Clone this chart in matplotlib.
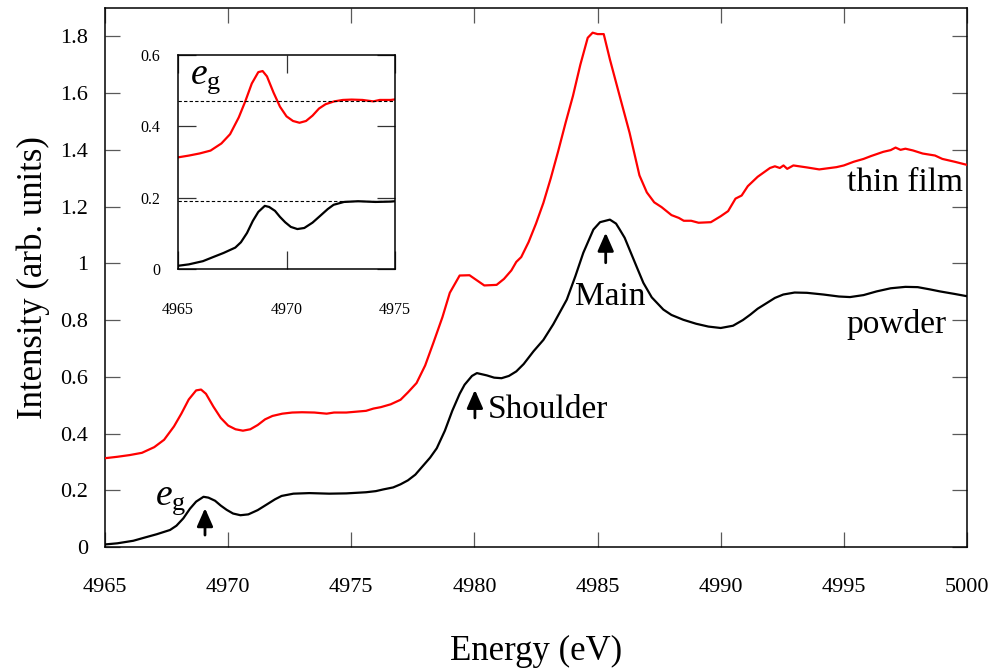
import matplotlib
matplotlib.use("Agg")
import matplotlib.pyplot as plt
from matplotlib.ticker import FuncFormatter

plt.rcParams["font.family"] = ["Liberation Serif", "DejaVu Serif"]
plt.rcParams["mathtext.fontset"] = "custom"
plt.rcParams["mathtext.rm"] = "Liberation Serif"
plt.rcParams["mathtext.it"] = "Liberation Serif:italic"

# Thin film spectrum (energy in eV, normalized intensity)
film_energy = [
    4965.0, 4965.5, 4966.0, 4966.5, 4967.0, 4967.4, 4967.8, 4968.1, 4968.4, 4968.7,
    4968.9, 4969.1, 4969.4, 4969.7, 4970.0, 4970.3, 4970.6, 4970.9, 4971.2, 4971.5,
    4971.8, 4972.2, 4972.6, 4973.0, 4973.5, 4974.0, 4974.3, 4974.8, 4975.2, 4975.6,
    4975.9, 4976.2, 4976.6, 4977.0, 4977.3, 4977.65, 4978.0, 4978.33, 4978.7, 4979.0,
    4979.4, 4979.8, 4980.1, 4980.4, 4980.9, 4981.2, 4981.5, 4981.7, 4981.9, 4982.2,
    4982.5, 4982.8, 4983.1, 4983.4, 4983.7, 4984.0, 4984.3, 4984.6, 4984.8, 4985.0,
    4985.25, 4985.5, 4985.9, 4986.3, 4986.7, 4987.0, 4987.3, 4987.6, 4988.0, 4988.3,
    4988.5, 4988.8, 4989.1, 4989.6, 4990.0, 4990.3, 4990.6, 4990.85, 4991.1, 4991.5,
    4992.0, 4992.2, 4992.4, 4992.55, 4992.7, 4992.95, 4993.5, 4994.0, 4994.7, 4995.0,
    4995.4, 4995.8, 4996.1, 4996.6, 4996.9, 4997.1, 4997.3, 4997.5, 4997.8, 4998.2,
    4998.7, 4999.0, 4999.5, 5000.0,
]
film_intensity = [
    0.313, 0.318, 0.324, 0.332, 0.352, 0.378, 0.425, 0.470, 0.520, 0.552,
    0.555, 0.540, 0.495, 0.455, 0.428, 0.415, 0.410, 0.415, 0.430, 0.450,
    0.462, 0.470, 0.474, 0.475, 0.474, 0.470, 0.474, 0.474, 0.477, 0.480,
    0.488, 0.493, 0.503, 0.519, 0.545, 0.578, 0.640, 0.719, 0.810, 0.896,
    0.957, 0.958, 0.940, 0.922, 0.924, 0.945, 0.975, 1.005, 1.022, 1.075,
    1.140, 1.213, 1.300, 1.395, 1.495, 1.590, 1.700, 1.795, 1.813, 1.808,
    1.808, 1.719, 1.589, 1.460, 1.310, 1.250, 1.215, 1.198, 1.170, 1.160,
    1.150, 1.150, 1.143, 1.145, 1.166, 1.184, 1.228, 1.239, 1.272, 1.305,
    1.336, 1.342, 1.336, 1.345, 1.333, 1.345, 1.338, 1.331, 1.339, 1.345,
    1.358, 1.368, 1.378, 1.393, 1.399, 1.408, 1.400, 1.404, 1.398, 1.387,
    1.380, 1.368, 1.358, 1.347,
]

# Powder spectrum
powder_energy = [
    4965.0, 4965.5, 4966.15, 4966.6, 4967.1, 4967.64, 4967.9, 4968.18, 4968.45, 4968.7,
    4969.0, 4969.2, 4969.47, 4969.7, 4969.94, 4970.2, 4970.5, 4970.82, 4971.2, 4971.57,
    4971.9, 4972.17, 4972.65, 4973.3, 4974.1, 4974.8, 4975.6, 4976.0, 4976.3, 4976.7,
    4977.0, 4977.3, 4977.6, 4977.9, 4978.2, 4978.47, 4978.8, 4979.1, 4979.4, 4979.6,
    4979.9, 4980.1, 4980.5, 4980.8, 4981.1, 4981.4, 4981.7, 4982.0, 4982.4, 4982.8,
    4983.2, 4983.75, 4984.1, 4984.42, 4984.83, 4985.1, 4985.5, 4985.75, 4985.9, 4986.1,
    4986.3, 4986.6, 4986.86, 4987.2, 4987.67, 4988.0, 4988.48, 4989.0, 4989.5, 4990.0,
    4990.5, 4990.9, 4991.2, 4991.5, 4991.87, 4992.2, 4992.54, 4993.0, 4993.5, 4994.17,
    4994.8, 4995.25, 4995.8, 4996.33, 4996.9, 4997.5, 4998.0, 4998.5, 4998.9, 4999.5,
    5000.0,
]
powder_intensity = [
    0.009, 0.013, 0.022, 0.033, 0.045, 0.060, 0.075, 0.101, 0.135, 0.160,
    0.177, 0.174, 0.163, 0.146, 0.131, 0.118, 0.112, 0.115, 0.130, 0.150,
    0.168, 0.180, 0.188, 0.190, 0.188, 0.189, 0.193, 0.197, 0.203, 0.210,
    0.221, 0.235, 0.255, 0.285, 0.315, 0.348, 0.410, 0.480, 0.540, 0.572,
    0.603, 0.613, 0.605, 0.597, 0.595, 0.603, 0.619, 0.645, 0.690, 0.730,
    0.785, 0.872, 0.955, 1.037, 1.119, 1.145, 1.154, 1.140, 1.119, 1.090,
    1.048, 0.985, 0.931, 0.880, 0.837, 0.818, 0.801, 0.787, 0.777, 0.772,
    0.780, 0.800, 0.819, 0.840, 0.860, 0.878, 0.890, 0.897, 0.896, 0.890,
    0.883, 0.881, 0.888, 0.901, 0.912, 0.917, 0.916, 0.908, 0.901, 0.892,
    0.884,
]

# Post-edge reference levels shown in the pre-edge close-up
film_level = 0.47
powder_level = 0.19

main_xticks = [4965, 4970, 4975, 4980, 4985, 4990, 4995, 5000]
main_yticks = [0, 0.2, 0.4, 0.6, 0.8, 1.0, 1.2, 1.4, 1.6, 1.8]
inset_xticks = [4965, 4970, 4975]
inset_yticks = [0, 0.2, 0.4, 0.6]

RED = "#ff0000"
fmt = FuncFormatter(lambda v, p: f"{v:g}")

fig = plt.figure(figsize=(9.98, 6.71), dpi=100)
ax = fig.add_axes([105 / 998, 1 - 547 / 671, 862 / 998, 539 / 671])

ax.plot(film_energy, film_intensity, color=RED, lw=1.6, zorder=3)
ax.plot(powder_energy, powder_intensity, color="black", lw=1.6, zorder=3)

ax.set_xlim(4965, 5000)
ax.set_ylim(0, 1.9)
ax.set_xticks(main_xticks)
ax.set_yticks(main_yticks)
ax.yaxis.set_major_formatter(fmt)
ax.tick_params(direction="in", length=11, width=0.9, color="0.35",
               top=True, right=True, labelsize=16)
ax.tick_params(axis="x", pad=22)
ax.tick_params(axis="y", pad=12)
for s in ax.spines.values():
    s.set_linewidth(1.1)

ax.set_xlabel("Energy (eV)", fontsize=25)
ax.set_ylabel("Intensity (arb. units)", fontsize=25)
ax.xaxis.set_label_coords(0.5, -0.163)
ax.yaxis.set_label_coords(-0.064, 0.5)

# Curve labels
ax.text(4999.84, 1.254, "thin film", fontsize=24, ha="right", va="baseline")
ax.text(4999.17, 0.754, "powder", fontsize=24, ha="right", va="baseline")
ax.text(4985.5, 0.854, "Main", fontsize=24, ha="center", va="baseline")
ax.text(4980.55, 0.455, "Shoulder", fontsize=24, ha="left", va="baseline")
ax.text(4967.03, 0.148, r"$e_{\mathrm{g}}$", fontsize=27, ha="left", va="baseline")

# Feature arrows
arrow_kw = dict(arrowstyle="-|>,head_length=0.5,head_width=0.22", color="black",
                lw=2.0, mutation_scale=22, shrinkA=0, shrinkB=0)
for e, tip, tail in [(4985.33, 1.108, 1.002),
                     (4980.02, 0.554, 0.455),
                     (4969.06, 0.137, 0.042)]:
    ax.annotate("", xy=(e, tip), xytext=(e, tail), arrowprops=arrow_kw)

# Pre-edge close-up
ins = fig.add_axes([178 / 998, 1 - 269 / 671, 217 / 998, 214 / 671])
ins.plot(film_energy, film_intensity, color=RED, lw=1.6)
ins.plot(powder_energy, powder_intensity, color="black", lw=1.6)
ins.axhline(film_level, color="black", lw=0.8, ls=(0, (3, 2)))
ins.axhline(powder_level, color="black", lw=0.8, ls=(0, (3, 2)))
ins.set_xlim(4965, 4975)
ins.set_ylim(0, 0.6)
ins.set_xticks(inset_xticks)
ins.set_yticks(inset_yticks)
ins.yaxis.set_major_formatter(fmt)
ins.tick_params(direction="in", length=13, width=0.9, color="0.2",
                top=True, right=True, labelsize=11.5)
ins.tick_params(axis="x", pad=24)
ins.tick_params(axis="y", pad=13)
for s in ins.spines.values():
    s.set_linewidth(1.1)
ins.text(4965.55, 0.521, r"$e_{\mathrm{g}}$", fontsize=27, ha="left", va="baseline")

fig.savefig("out.png", dpi=100)
